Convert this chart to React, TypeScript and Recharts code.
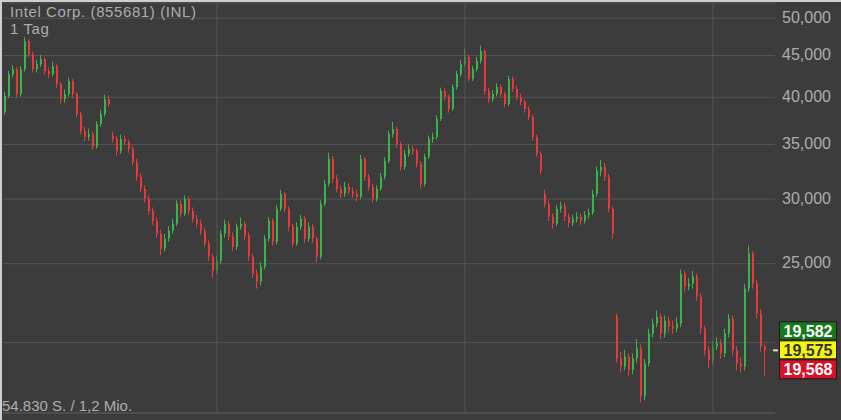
import React from 'react';
import { ComposedChart, Bar, XAxis, YAxis, CartesianGrid, ReferenceLine } from 'recharts';

// daily candles, Intel Corp. (855681)
const opens = [
  38350, 40150, 42700, 43310, 40350, 43300, 46860, 45180, 43300, 43920,
  44550, 43060, 42700, 43680, 41520, 39800, 40365, 41870, 40365, 38150,
  36370, 35760, 36060, 34770, 37090, 38150, 39800, 35860, 35560, 34380,
  35560, 35260, 34570, 33330, 31950, 30890, 30030, 29030, 28225, 27210,
  26085, 26830, 27440, 27990, 29610, 28790, 30030, 29030, 28385, 27990,
  27440, 26455, 25500, 24515, 25215, 27210, 27990, 26980, 26230, 27750,
  27990, 27060, 25500, 24310, 23770, 24795, 26830, 28225, 26600, 29195,
  30455, 29195, 27750, 26455, 27750, 28385, 26830, 27750, 26830, 25500,
  29610, 31325, 33610, 31770, 30890, 30455, 31060, 30715, 30455, 30200,
  33610, 31950, 31060, 30030, 30890, 31950, 33420, 36060, 36575, 35060,
  32860, 34090, 34570, 34380, 33140, 31325, 33800, 35560, 35760, 37620,
  40710, 40025, 38695, 41170, 42700, 43920, 44800, 42105, 43310, 44300,
  45560, 40710, 39800, 40365, 41170, 40365, 39240, 42105, 40940, 40025,
  39465, 38695, 37830, 35760, 34090, 30455, 29610, 28545, 27990, 29195,
  29445, 28545, 28066, 28385, 28545, 28225, 28705, 28868, 30455, 32495,
  32860, 31950, 29195, 21535, 19135, 18705, 19240, 18500, 19135, 19680,
  17190, 18865, 20530, 21115, 21535, 20530, 21295, 20940, 20820, 21115,
  24310, 23435, 23635, 24105, 22785, 20820, 19570, 19025, 19790, 19960,
  19405, 20530, 21415, 19570, 18865, 18705, 23305, 25720, 23635, 21720,
  19790,
];

const highs = [
  40600, 43100, 43800, 43600, 43700, 47400, 47100, 45500, 44400, 45100,
  44800, 43500, 44200, 43900, 41800, 40900, 42300, 42100, 40600, 38400,
  36800, 36600, 36300, 37400, 38600, 40300, 40200, 36300, 35800, 36000,
  35900, 35500, 34800, 33600, 32300, 31200, 30300, 29300, 28500, 27500,
  27200, 27800, 28400, 29900, 29900, 30300, 30200, 29300, 28700, 28300,
  27700, 26700, 25700, 25600, 27500, 28300, 28200, 27300, 28000, 28500,
  28200, 27300, 25700, 24600, 25100, 27100, 28500, 28400, 29500, 30800,
  30600, 29400, 28000, 28100, 28700, 28600, 28100, 28000, 27000, 29900,
  31700, 34200, 33900, 32100, 31200, 31500, 31400, 31000, 30800, 34000,
  33800, 32200, 31300, 31200, 32300, 33800, 36400, 37300, 36800, 35300,
  34500, 35000, 34900, 34600, 33400, 34100, 35900, 36200, 38000, 41100,
  41000, 40300, 41500, 43100, 44400, 45900, 45100, 43700, 44800, 46300,
  45800, 41100, 40800, 41600, 41500, 40600, 42500, 42400, 41300, 40400,
  39800, 39000, 38100, 36000, 34300, 30800, 29900, 28800, 29500, 29800,
  29700, 28800, 28700, 28900, 28800, 29000, 29200, 30800, 32900, 33500,
  33200, 32200, 29400, 21700, 19500, 19600, 19400, 19400, 20200, 19900,
  19100, 20800, 21400, 21900, 21700, 21600, 21500, 21300, 21500, 24600,
  24500, 24000, 24500, 24300, 23000, 21000, 19800, 20100, 20300, 20200,
  20800, 21700, 21600, 19800, 19200, 23600, 26300, 25900, 23900, 22000,
  19900,
];

const lows = [
  38100, 39900, 42300, 40000, 40100, 43000, 44800, 42900, 42900, 43600,
  42700, 42200, 42400, 41100, 39300, 39400, 40100, 39900, 37800, 36000,
  35300, 35400, 34500, 34600, 36800, 37900, 38900, 35200, 33900, 34100,
  34900, 34200, 33000, 31600, 30600, 29700, 28700, 27900, 26900, 25600,
  25900, 26600, 27200, 27800, 28500, 28600, 28700, 28100, 27700, 27100,
  26200, 25200, 24000, 24300, 25000, 26900, 26700, 25900, 26000, 27500,
  26700, 25200, 24000, 23300, 23500, 24600, 26600, 26300, 26400, 29000,
  28900, 27400, 26200, 26300, 27500, 26500, 26600, 26500, 25100, 25300,
  29400, 31100, 31400, 30600, 30100, 30200, 30400, 30100, 29800, 30000,
  31600, 30700, 29700, 29800, 30700, 31700, 33200, 35700, 34700, 32500,
  32600, 33800, 34000, 32800, 30900, 31100, 33600, 35200, 35500, 37400,
  39700, 38300, 38500, 40900, 42400, 43600, 41800, 41900, 43000, 44000,
  40300, 39400, 39500, 40100, 40000, 38900, 39000, 40600, 39700, 39100,
  38300, 37500, 35400, 33800, 32200, 29300, 28200, 27600, 27800, 28900,
  28200, 27700, 27800, 28100, 27900, 28000, 28400, 28700, 30200, 32000,
  31600, 28900, 26800, 18900, 18400, 18500, 18200, 18300, 18900, 16880,
  17000, 18700, 20300, 20900, 20200, 20300, 20600, 20500, 20600, 20900,
  23100, 23200, 23300, 22500, 20500, 19300, 18600, 18800, 19600, 19100,
  19200, 20300, 19300, 18500, 18400, 18500, 23100, 23300, 21400, 19500,
  18200,
];

const closes = [
  40150, 42700, 43310, 40350, 43300, 46860, 45180, 43300, 43920, 44550,
  43060, 42700, 43680, 41520, 39800, 40365, 41870, 40365, 38150, 36370,
  35760, 36060, 34770, 37090, 38150, 39800, 39240, 35560, 34380, 35560,
  35260, 34570, 33330, 31950, 30890, 30030, 29030, 28225, 27210, 26085,
  26830, 27440, 27990, 29610, 28790, 30030, 29030, 28385, 27990, 27440,
  26455, 25500, 24515, 25215, 27210, 27990, 26980, 26230, 27750, 27990,
  27060, 25500, 24310, 23770, 24795, 26830, 28225, 26600, 29195, 30455,
  29195, 27750, 26455, 27750, 28385, 26830, 27750, 26830, 25500, 29610,
  31325, 33610, 31770, 30890, 30455, 31060, 30715, 30455, 30200, 33610,
  31950, 31060, 30030, 30890, 31950, 33420, 36060, 36575, 35060, 32860,
  34090, 34570, 34380, 33140, 31325, 33800, 35560, 35760, 37620, 40710,
  40025, 38695, 41170, 42700, 43920, 44800, 42105, 43310, 44300, 45560,
  40710, 39800, 40365, 41170, 40365, 39240, 42105, 40940, 40025, 39465,
  38695, 37830, 35760, 34090, 32495, 29610, 28545, 27990, 29195, 29445,
  28545, 28066, 28385, 28545, 28225, 28705, 28868, 30455, 32495, 32860,
  31950, 29195, 27210, 19135, 18705, 19240, 18500, 19135, 19680, 17190,
  18865, 20530, 21115, 21535, 20530, 21295, 20940, 20820, 21115, 24310,
  23435, 23635, 24105, 22785, 20820, 19570, 19025, 19790, 19960, 19405,
  20530, 21415, 19570, 18865, 18705, 23305, 25720, 23635, 21720, 19790,
  19575,
];

const PRICE_TICKS = [20000, 25000, 30000, 35000, 40000, 45000, 50000];
const PERIOD_MARKS = [53, 115, 177]; // candle index where a new period starts
const QUOTE = { ask: 19582, last: 19575, bid: 19568 };

const UP = '#3bb54a';
const DOWN = '#e83a3a';
const GRID = '#555555';
const TEXT = '#adadad';
const FONT = '"Liberation Sans", Arial, sans-serif';

const data = closes.map((c, i) => ({
  day: i,
  open: opens[i],
  high: highs[i],
  low: lows[i],
  close: c,
  range: [lows[i], highs[i]],
}));

const fmt = (v: number) => v.toLocaleString('en-US');

const Candle = (props: any) => {
  const { x, y, width, height, payload } = props;
  if (!payload) return null;
  const top = Math.min(y, y + height);
  const h = Math.abs(height);
  const { open, close, high, low } = payload;
  const span = Math.log(high) - Math.log(low);
  // log scale: interpolate in log space between the high and low pixels
  const py = (v: number) => top + (span ? (h * (Math.log(high) - Math.log(v))) / span : 0);
  const color = close >= open ? UP : DOWN;
  const bodyW = Math.max(1, Math.min(2, width - 1));
  const left = x + 1;
  const bTop = py(Math.max(open, close));
  const bBot = py(Math.min(open, close));
  return (
    <g>
      <line x1={left + 0.5} x2={left + 0.5} y1={top} y2={top + h} stroke={color} strokeWidth={1} />
      <rect x={left} y={bTop} width={bodyW} height={Math.max(1, bBot - bTop)} fill={color} />
    </g>
  );
};

const PriceTick = ({ x, y, payload }: any) => {
  if (payload.value === 20000) return null; // hidden behind the quote boxes
  return (
    <text x={x + 56} y={y - 1} textAnchor="end" dominantBaseline="central" fill={TEXT} fontSize={16} fontFamily={FONT}>
      {fmt(payload.value)}
    </text>
  );
};

const QuoteTags = ({ viewBox }: any) => {
  if (!viewBox) return null;
  const right = viewBox.x + viewBox.width;
  const y = viewBox.y;
  const bx = right + 4;
  const bw = 57;
  const boxes = [
    { v: QUOTE.ask, top: y - 29, h: 18, fill: '#167a1c', color: '#ffffff' },
    { v: QUOTE.last, top: y - 10, h: 18, fill: '#f6f60c', color: '#333333' },
    { v: QUOTE.bid, top: y + 9, h: 19, fill: '#d8102a', color: '#ffffff' },
  ];
  return (
    <g>
      <rect x={right - 2} y={y - 1} width={5} height={2} fill="#dddddd" />
      {boxes.map((b) => (
        <g key={b.v}>
          <rect x={bx + 0.5} y={b.top + 0.5} width={bw} height={b.h} fill={b.fill} stroke="#1a1a1a" strokeWidth={1} />
          <text
            x={bx + bw / 2 + 0.5}
            y={b.top + b.h / 2 + 1}
            textAnchor="middle"
            dominantBaseline="central"
            fill={b.color}
            fontSize={16}
            fontWeight="bold"
            fontFamily={FONT}
          >
            {fmt(b.v)}
          </text>
        </g>
      ))}
    </g>
  );
};

export default function App() {
  return (
    <div
      style={{
        position: 'absolute',
        left: 0,
        top: 0,
        width: 841,
        height: 420,
        background: '#3c3c3c',
        overflow: 'hidden',
        fontFamily: FONT,
      }}
    >
      <ComposedChart width={841} height={420} data={data} margin={{ top: 3, right: 0, bottom: 0, left: 3 }} barCategoryGap={0}>
        <CartesianGrid vertical={false} stroke={GRID} />
        <XAxis
          dataKey="day"
          tick={false}
          tickLine={false}
          axisLine={{ stroke: GRID }}
          height={7}
          padding={{ left: 0, right: 8 }}
        />
        <YAxis
          orientation="right"
          scale="log"
          domain={[16400, 52200]}
          allowDataOverflow
          ticks={PRICE_TICKS}
          interval={0}
          axisLine={false}
          tickLine={false}
          tickSize={0}
          tickMargin={0}
          width={66}
          tick={<PriceTick />}
        />
        {PERIOD_MARKS.map((d) => (
          <ReferenceLine key={d} x={d} stroke={GRID} />
        ))}
        <Bar dataKey="range" shape={<Candle />} isAnimationActive={false} />
        <ReferenceLine y={QUOTE.last} stroke="none" label={<QuoteTags />} />
      </ComposedChart>

      <div style={{ position: 'absolute', left: 0, top: 0, width: 841, height: 2, background: '#cfcfcf' }} />
      <div style={{ position: 'absolute', left: 0, top: 0, width: 2, height: 420, background: '#cfcfcf' }} />

      <div
        style={{
          position: 'absolute',
          left: 10,
          top: 3,
          color: TEXT,
          fontSize: 15,
          letterSpacing: 0.6,
          lineHeight: '17px',
          whiteSpace: 'nowrap',
        }}
      >
        Intel Corp. (855681) (INL)
        <br />
        1 Tag
      </div>
      <div style={{ position: 'absolute', left: 2, top: 398, color: TEXT, fontSize: 15, lineHeight: '16px', whiteSpace: 'nowrap' }}>
        54.830 S. / 1,2 Mio.
      </div>
    </div>
  );
}
